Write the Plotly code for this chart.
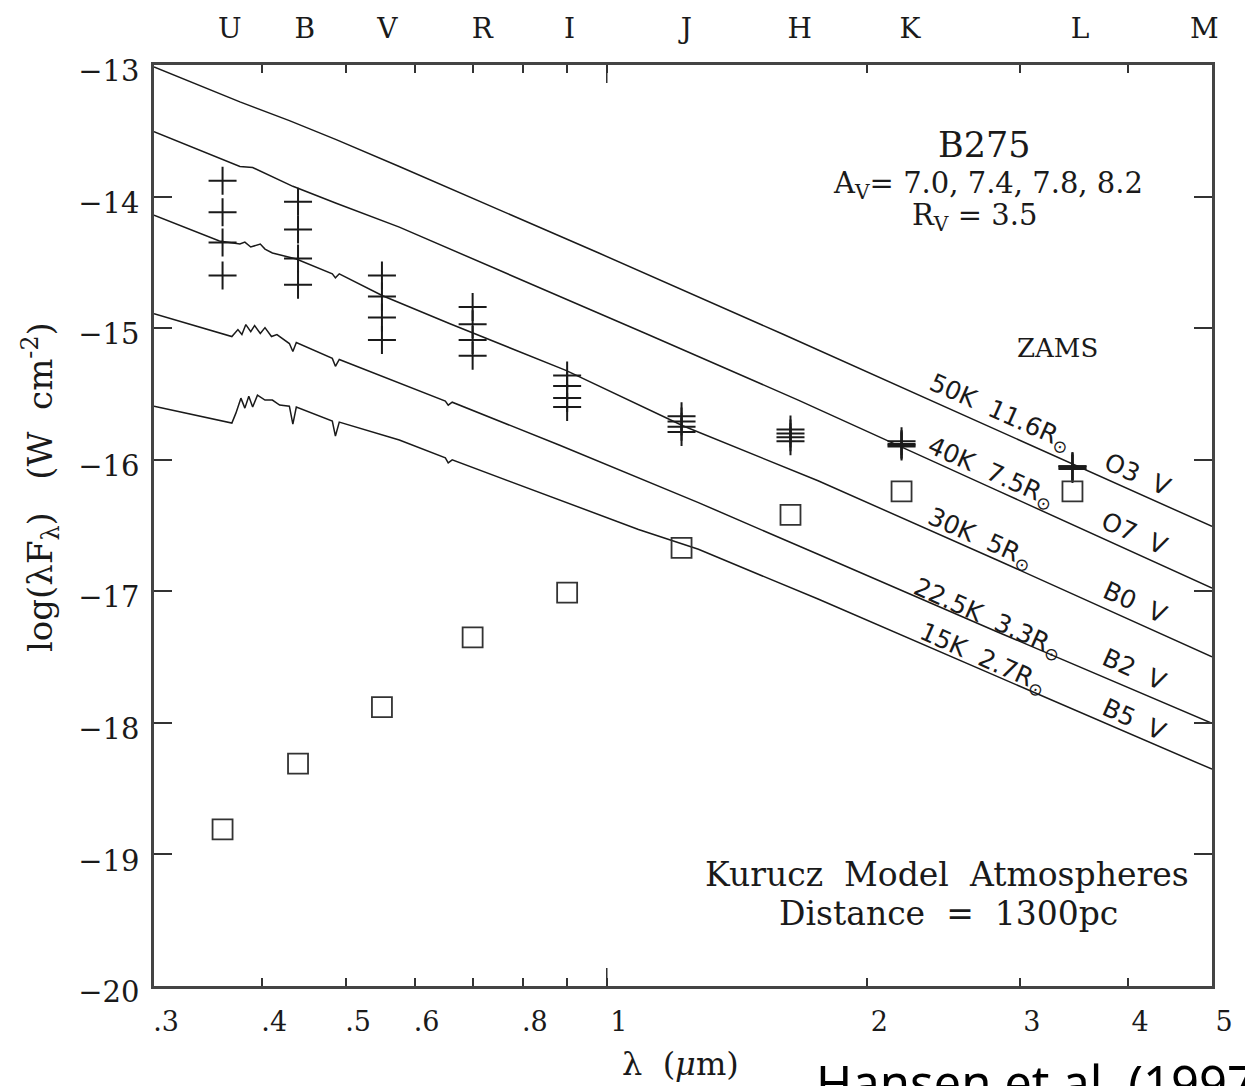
import math
import plotly.graph_objects as go

# ---------------- data ----------------
band_wl = [0.36, 0.44, 0.55, 0.70, 0.90, 1.22, 1.63, 2.19, 3.45]

# dereddened fluxes for A_V = 8.2, 7.8, 7.4, 7.0  (log lambda F_lambda)
dered_av82 = [-13.88, -14.04, -14.60, -14.84, -15.36, -15.67, -15.77, -15.86, -16.05]
dered_av78 = [-14.12, -14.25, -14.76, -14.97, -15.44, -15.71, -15.80, -15.88, -16.05]
dered_av74 = [-14.35, -14.47, -14.92, -15.09, -15.53, -15.75, -15.83, -15.89, -16.06]
dered_av70 = [-14.60, -14.67, -15.09, -15.21, -15.60, -15.79, -15.86, -15.90, -16.07]

# observed (reddened) fluxes
observed = [-18.81, -18.31, -17.88, -17.35, -17.01, -16.67, -16.42, -16.24, -16.24]

# Kurucz model atmospheres (wavelength in micron, log lambda F_lambda)
m50_wl = [0.300, 0.377, 0.430, 0.487, 0.576, 0.979, 1.591, 2.827, 5.0]
m50_f = [-13.015, -13.280, -13.423, -13.567, -13.771, -14.429, -15.041, -15.774, -16.507]

m40_wl = [0.300, 0.377, 0.390, 0.411, 0.434, 0.487, 0.576, 1.109, 1.664, 2.827, 5.0]
m40_f = [-13.506, -13.771, -13.779, -13.847, -13.922, -14.051, -14.232, -15.041, -15.547, -16.235, -16.976]

m30_wl = [0.300, 0.357, 0.377, 0.382, 0.388, 0.398, 0.403, 0.411, 0.438, 0.482, 0.486,
          0.491, 0.551, 0.658, 0.897, 1.226, 1.754, 2.827, 5.0]
m30_f = [-14.141, -14.338, -14.361, -14.346, -14.383, -14.361, -14.399, -14.429, -14.474, -14.587, -14.618,
         -14.587, -14.754, -14.965, -15.321, -15.744, -16.160, -16.764, -17.498]

m22_wl = [0.300, 0.369, 0.375, 0.379, 0.383, 0.388, 0.392, 0.398, 0.403, 0.410, 0.416, 0.430,
          0.434, 0.438, 0.482, 0.486, 0.491, 0.576, 0.651, 0.656, 0.663, 0.881, 1.088, 1.276,
          1.754, 2.827, 5.0]
m22_f = [-14.890, -15.064, -15.011, -15.049, -14.973, -15.026, -14.981, -15.041, -14.996, -15.064,
         -15.049, -15.117, -15.177, -15.109, -15.230, -15.290, -15.238, -15.419, -15.555, -15.585,
         -15.563, -15.888, -16.137, -16.326, -16.719, -17.309, -18.004]

m15_wl = [0.300, 0.369, 0.373, 0.378, 0.382, 0.386, 0.390, 0.395, 0.403, 0.411, 0.419, 0.430,
          0.434, 0.438, 0.482, 0.486, 0.491, 0.576, 0.651, 0.656, 0.663, 0.881, 1.088, 1.276,
          1.754, 2.827, 5.0]
m15_f = [-15.593, -15.721, -15.646, -15.532, -15.608, -15.517, -15.600, -15.510, -15.547, -15.547,
         -15.585, -15.593, -15.729, -15.600, -15.706, -15.820, -15.714, -15.850, -15.986, -16.024,
         -16.001, -16.303, -16.530, -16.681, -17.059, -17.649, -18.352]

model_labels = ["50K 11.6R<sub>⊙</sub>", "40K 7.5R<sub>⊙</sub>", "30K 5R<sub>⊙</sub>",
                "22.5K 3.3R<sub>⊙</sub>", "15K 2.7R<sub>⊙</sub>"]
spectral_types = ["O3 V", "O7 V", "B0 V", "B2 V", "B5 V"]

# photometric band letters along the top
band_names = ["U", "B", "V", "R", "I", "J", "H", "K", "L", "M"]
band_label_wl = [0.367, 0.448, 0.558, 0.718, 0.906, 1.236, 1.67, 2.24, 3.52, 4.9]

x_tickvals = [0.3, 0.4, 0.5, 0.6, 0.7, 0.8, 0.9, 1, 2, 3, 4, 5]
x_ticktext = [".3", ".4", ".5", ".6", "", ".8", "", "1", "2", "3", "4", "5"]
y_tickvals = [-13, -14, -15, -16, -17, -18, -19, -20]
y_ticktext = ["\u221213", "\u221214", "\u221215", "\u221216", "\u221217", "\u221218", "\u221219", "\u221220"]

# ---------------- figure ----------------
W, H = 1245, 1086
ML, MR, MT, MB = 154, 30, 60, 100
PW, PH = W - ML - MR, H - MT - MB


def P(px, py):
    """pixel -> paper coordinates"""
    return (px - ML) / PW, (H - MB - py) / PH


SERIF = "DejaVu Serif"
SANS = "DejaVu Sans"
INK = "#1a1a1a"
NB = "\u00a0"

fig = go.Figure()

for wl, f in [(m50_wl, m50_f), (m40_wl, m40_f), (m30_wl, m30_f), (m22_wl, m22_f), (m15_wl, m15_f)]:
    fig.add_trace(go.Scatter(x=wl, y=f, mode="lines", line=dict(color=INK, width=1.5),
                             showlegend=False, hoverinfo="skip"))

for f in [dered_av82, dered_av78, dered_av74, dered_av70]:
    fig.add_trace(go.Scatter(x=band_wl, y=f, mode="markers",
                             marker=dict(symbol="cross-thin", size=20, line=dict(color=INK, width=2)),
                             showlegend=False))

fig.add_trace(go.Scatter(x=band_wl, y=observed, mode="markers",
                         marker=dict(symbol="square-open", size=20, color="#333",
                                     line=dict(color="#333", width=1.8)),
                         showlegend=False))

# invisible trace to activate the top (band letter) axis
fig.add_trace(go.Scatter(x=band_label_wl, y=[-13] * len(band_label_wl), xaxis="x2", mode="markers",
                         marker=dict(opacity=0), showlegend=False, hoverinfo="skip"))

xr = [math.log10(0.3), math.log10(5)]

annotations = []


def add_text(text, px, py, size, font=SERIF, angle=0):
    x, y = P(px, py)
    annotations.append(dict(text=text, x=x, y=y, xref="paper", yref="paper", showarrow=False,
                            xanchor="center", yanchor="middle", textangle=angle,
                            font=dict(family=font, size=size, color=INK)))


add_text("B275", 987, 140, 35)
add_text("A<sub>V</sub>=" + NB + "7.0," + NB + "7.4," + NB + "7.8," + NB + "8.2", 990, 181, 29)
add_text("R<sub>V</sub>" + NB + "=" + NB + "3.5", 977, 213, 29)
add_text("ZAMS", 1060, 345, 26)

label_pos = [(1002, 410), (993, 470), (982, 537), (990, 617), (985, 657)]
type_pos = [(1140, 472), (1137, 531), (1138, 600), (1137, 668), (1137, 718)]
for lab, (px, py) in zip(model_labels, label_pos):
    add_text(lab.replace(" ", NB + " "), px, py, 25, SANS, 24)
for lab, (px, py) in zip(spectral_types, type_pos):
    add_text(lab.replace(" ", NB + " "), px, py, 25, SANS, 24)

add_text("Kurucz" + NB + " Model" + NB + " Atmospheres", 949, 874, 33)
add_text("Distance" + NB + " =" + NB + " 1300pc", 951, 913, 33)

# axis titles
add_text("log(\u03bbF<sub>\u03bb</sub>)" + NB * 3 + "(W" + NB * 2 + "cm<sup>-2</sup>)", 40, 484, 34, SERIF, -90)
add_text("\u03bb" + NB + " (<i>\u03bc</i>m)", 682, 1064, 32)

# citation at the bottom, partially cut by the page edge
cx, cy = P(816, 1047)
annotations.append(dict(text="Hansen et al. (1997)", x=cx, y=cy, xref="paper", yref="paper",
                        showarrow=False, xanchor="left", yanchor="top",
                        font=dict(family="Noto Sans", size=49, color="#000")))

shapes = [
    dict(type="line", xref="x", yref="paper", x0=1, x1=1, y0=0, y1=18 / PH,
         line=dict(color="#333", width=1.5)),
    dict(type="line", xref="x", yref="paper", x0=1, x1=1, y0=1 - 18 / PH, y1=1,
         line=dict(color="#333", width=1.5)),
]

fig.update_layout(
    width=W, height=H,
    margin=dict(l=ML, r=MR, t=MT, b=MB, pad=0),
    paper_bgcolor="white", plot_bgcolor="white",
    showlegend=False,
    xaxis=dict(type="log", range=xr, tickvals=x_tickvals, ticktext=x_ticktext,
               ticks="inside", ticklen=8, tickwidth=1.5, tickcolor="#333",
               showline=True, linewidth=2.5, linecolor="#444", mirror="ticks",
               showgrid=False, zeroline=False,
               tickfont=dict(family=SERIF, size=27, color=INK),
               ticklabelshift=12, ticklabelstandoff=10),
    xaxis2=dict(type="log", range=xr, overlaying="x", side="top", anchor="y",
                tickvals=band_label_wl, ticktext=band_names, ticks="",
                showline=False, showgrid=False, zeroline=False,
                tickfont=dict(family=SERIF, size=28, color=INK), ticklabelstandoff=20),
    yaxis=dict(range=[-20, -13], tickvals=y_tickvals, ticktext=y_ticktext,
               ticks="inside", ticklen=18, tickwidth=1.5, tickcolor="#333",
               showline=True, linewidth=2.5, linecolor="#444", mirror="ticks",
               showgrid=False, zeroline=False,
               tickfont=dict(family=SERIF, size=29, color=INK),
               ticklabelshift=6, ticklabelstandoff=6),
    annotations=annotations,
    shapes=shapes,
)

fig.write_html("out.html")
